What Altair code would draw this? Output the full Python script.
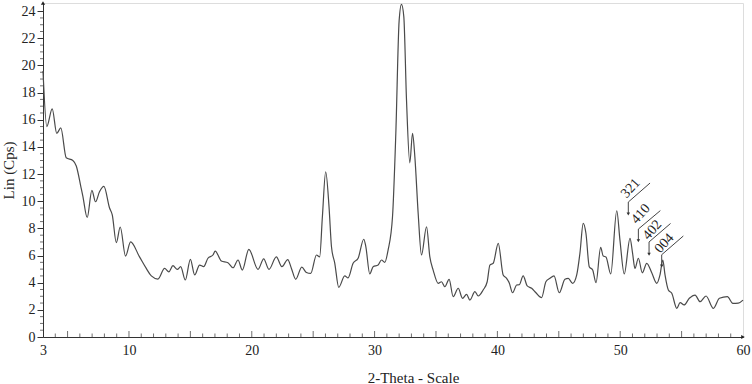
import altair as alt
import pandas as pd

two_theta = [3.0, 3.31, 3.75, 4.12, 4.45, 4.89, 5.43, 5.71, 6.11, 6.24, 6.6, 6.98, 7.28, 7.6, 7.96,
             8.42, 8.64, 8.97, 9.29, 9.72, 10.13, 10.86, 11.41, 11.82, 12.36, 12.9, 13.25, 13.58,
             13.94, 14.21, 14.59, 15.0, 15.35, 15.75, 16.08, 16.43, 16.84, 17.02, 17.52, 18.06,
             18.47, 18.88, 19.23, 19.76, 20.51, 20.97, 21.4, 22.0, 22.45, 22.93, 23.23, 23.58,
             24.07, 24.45, 24.8, 25.27, 25.53, 25.75, 26.02, 26.29, 26.49, 26.76, 27.08, 27.57,
             27.84, 28.25, 28.66, 29.12, 29.28, 29.61, 29.88, 30.29, 30.56, 30.83, 31.1, 31.46,
             31.73, 32.0, 32.19, 32.38, 32.6, 32.87, 33.09, 33.28, 33.55, 33.82, 34.23, 34.5,
             34.77, 35.18, 35.45, 35.72, 36.07, 36.4, 36.81, 37.16, 37.49, 37.76, 38.17, 38.44,
             38.84, 39.17, 39.39, 39.66, 40.07, 40.47, 40.75, 40.96, 41.24, 41.57, 41.78, 42.1,
             42.43, 42.79, 43.14, 43.6, 43.95, 44.28, 44.61, 45.04, 45.5, 45.77, 46.13, 46.46,
             46.72, 46.99, 47.21, 47.48, 47.76, 48.03, 48.41, 48.62, 48.84, 49.23, 49.72, 49.98,
             50.33, 50.8, 51.01, 51.2, 51.48, 51.8, 52.16, 52.57, 52.98, 53.24, 53.47, 53.65,
             53.92, 54.2, 54.61, 54.88, 55.2, 55.63, 56.1, 56.5, 56.99, 57.59, 58.08, 58.73,
             59.17, 59.62, 60.0]
intensity = [19.6, 15.5, 16.8, 15.0, 15.4, 13.2, 13.0, 12.6, 10.95, 10.4, 8.8, 10.8, 9.96, 10.7, 11.1,
             9.5, 9.0, 6.95, 8.1, 5.96, 7.0, 5.9, 5.05, 4.5, 4.27, 5.05, 4.8, 5.25,
             4.98, 5.18, 4.2, 5.72, 4.57, 5.3, 5.18, 5.8, 6.04, 6.33, 5.6, 5.47,
             5.1, 5.67, 4.93, 6.46, 4.98, 5.75, 4.98, 5.9, 5.18, 5.7, 5.05, 4.25,
             5.15, 4.75, 4.68, 6.04, 5.9, 8.86, 12.17, 9.6, 6.65, 5.43, 3.66, 4.5,
             4.35, 5.43, 5.8, 7.2, 6.7, 4.64, 5.18, 5.3, 5.67, 5.5, 6.4, 8.86,
             15.0, 23.3, 24.5, 23.6, 17.45, 12.83, 15.0, 13.27, 9.1, 6.04, 8.12, 5.9,
             4.93, 3.95, 4.07, 3.7, 4.25, 2.97, 3.59, 2.85, 3.14, 2.72, 3.34, 3.02,
             3.46, 4.07, 5.3, 5.43, 6.9, 4.57, 4.32, 4.0, 3.26, 3.83, 3.85, 4.5,
             3.76, 3.59, 3.26, 2.9, 4.07, 4.32, 4.5, 3.26, 4.25, 4.32, 3.95, 4.57,
             6.16, 8.37, 7.64, 5.18, 4.93, 4.0, 6.6, 5.96, 5.9, 4.64, 9.3, 7.14,
             4.64, 7.27, 6.16, 5.05, 5.8, 4.73, 5.43, 4.73, 3.95, 4.57, 5.67, 4.57,
             3.46, 3.22, 2.11, 2.53, 2.36, 2.85, 3.09, 2.6, 3.02, 2.11, 2.85, 2.97,
             2.48, 2.5, 2.72]

# peak annotations (hkl)
hkl_labels = ["321", "410", "402", "004"]
tip_x = [50.66, 51.48, 52.35, 53.38]
tip_y = [9.06, 7.09, 6.09, 5.23]
stem_y = [9.94, 7.95, 7.0, 6.06]
lead_x2 = [52.43, 53.27, 54.1, 55.14]
lead_y2 = [11.34, 9.31, 8.36, 7.44]
text_x = [50.85, 51.67, 52.61, 53.6]
text_y = [10.95, 9.06, 7.88, 6.9]

x_labels = [3, 10, 20, 30, 40, 50, 60]
y_labels = [0, 2, 4, 6, 8, 10, 12, 14, 16, 18, 20, 22, 24]

FONT = "Liberation Serif"
X_DOM = [3, 60]
Y_DOM = [0, 24.6]

df = pd.DataFrame({"t": two_theta, "i": intensity})
ann = pd.DataFrame({"lab": hkl_labels, "tx": tip_x, "ty": tip_y, "sy": stem_y,
                    "lx2": lead_x2, "ly2": lead_y2, "px": text_x, "py": text_y})

xs = alt.Scale(domain=X_DOM, nice=False, zero=False)
ys = alt.Scale(domain=Y_DOM, nice=False, zero=False)

xaxis = alt.Axis(
    values=x_labels, ticks=False, title="2-Theta - Scale", labelFont=FONT, labelFontSize=14,
    labelColor="#222", labelPadding=6, domainColor="#333", labelFlush=False, grid=False,
    labelOverlap=False,
    titleFont=FONT, titleFontSize=15, titleFontWeight="normal", titleColor="#222",
    titleX=370, titleY=40, titleBaseline="middle", titleAlign="center")
yaxis = alt.Axis(
    values=y_labels, tickSize=6, tickColor="#333", title="Lin (Cps)", labelFont=FONT,
    labelFontSize=14, labelColor="#222", labelPadding=2, domainColor="#333", grid=False,
    labelFlush=False, labelOverlap=False, titleFont=FONT, titleFontSize=15,
    titleFontWeight="normal", titleColor="#222", titleX=-35, titleY=167,
    titleBaseline="middle", titleAlign="center", titleAngle=270)


def X(f):
    return alt.X(f, type="quantitative", scale=xs, axis=xaxis)


def Y(f):
    return alt.Y(f, type="quantitative", scale=ys, axis=yaxis)


line = alt.Chart(df).mark_line(color="#4a4a4a", strokeWidth=1.2, interpolate="monotone").encode(
    x=X("t"), y=Y("i"))

xminor = pd.DataFrame({"t": [v for v in range(4, 60) if v % 5 != 0], "i": 0.0})
xmajor = pd.DataFrame({"t": [v for v in range(5, 60, 5)], "i": 0.0})
yminor = pd.DataFrame({"i": [k * 0.5 for k in range(0, 49) if k % 4 != 0], "t": 3.0})

xt1 = alt.Chart(xminor).mark_tick(orient="vertical", size=3.5, thickness=1, color="#333", yOffset=-1.75).encode(
    x=X("t"), y=Y("i"))
xt2 = alt.Chart(xmajor).mark_tick(orient="vertical", size=6, thickness=1, color="#333", yOffset=-3).encode(
    x=X("t"), y=Y("i"))
yt = alt.Chart(yminor).mark_tick(orient="horizontal", size=3, thickness=1, color="#333", xOffset=-1.5).encode(
    x=X("t"), y=Y("i"))

ends = pd.DataFrame({"t": [60, 3], "i": [0, 24.6], "s": ["triangle-right", "triangle-up"]})
arrows = alt.Chart(ends).mark_point(filled=True, size=18, color="#222", opacity=1).encode(
    x=X("t"), y=Y("i"), shape=alt.Shape("s:N", scale=None, legend=None))

stems = alt.Chart(ann).mark_rule(color="#444", strokeWidth=1).encode(
    x=X("tx"), y=Y("ty"), y2="sy:Q")
leaders = alt.Chart(ann).mark_rule(color="#444", strokeWidth=1).encode(
    x=X("tx"), y=Y("sy"), x2="lx2:Q", y2="ly2:Q")
heads = alt.Chart(ann).mark_point(shape="triangle-down", filled=True, size=12, color="#333", opacity=1).encode(
    x=X("tx"), y=Y("ty"))
texts = alt.Chart(ann).mark_text(angle=312, font=FONT, fontSize=14, color="#222", align="center",
                                 baseline="middle").encode(
    x=X("px"), y=Y("py"), text="lab:N")

chart = alt.layer(line, xt1, xt2, yt, arrows, stems, leaders, heads, texts).properties(
    width=700, height=334,
    autosize=alt.AutoSizeParams(type="none"),
    padding={"left": 43, "top": 3, "right": 9, "bottom": 47},
).configure_view(stroke=None).configure(background="white")

chart.save("out.html", embed_options={"renderer": "svg", "actions": False})
